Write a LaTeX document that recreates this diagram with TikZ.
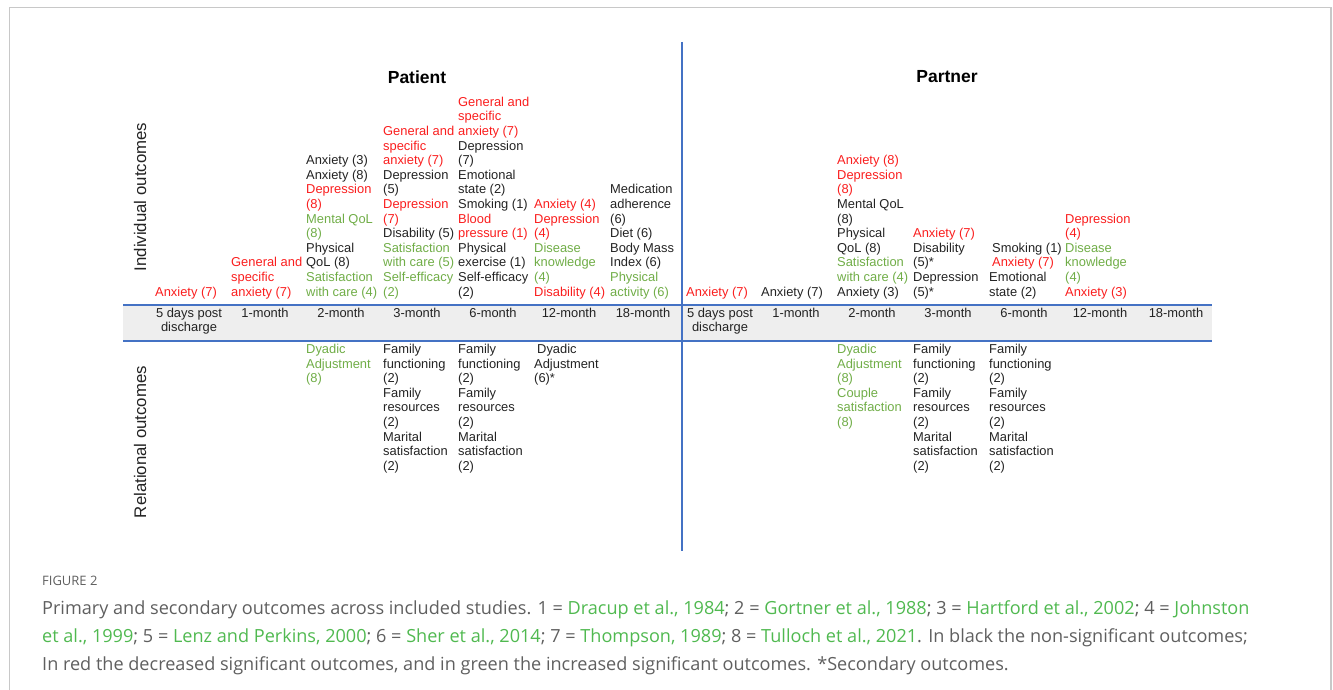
\documentclass[tikz,border=0pt]{standalone}
\usepackage{fontspec}
\setmainfont{Liberation Sans}
\newfontfamily\capfont{Open Sans}
\definecolor{redc}{RGB}{250,30,30}
\definecolor{greenc}{RGB}{112,173,71}
\definecolor{txtk}{RGB}{35,35,35}
\definecolor{bluel}{RGB}{68,114,196}
\definecolor{bandc}{RGB}{238,238,238}
\definecolor{framec}{RGB}{200,200,200}
\definecolor{capgray}{RGB}{95,95,95}
\definecolor{capgreen}{RGB}{80,185,80}
\newcommand\cR[1]{\textcolor{redc}{#1}}
\newcommand\cG[1]{\textcolor{greenc}{#1}}
\newcommand\cg[1]{\textcolor{capgreen}{#1}}
\begin{document}
\begin{tikzpicture}[x=1pt,y=-1pt,
  cell/.style={inner sep=0pt, align=left, font=\fontsize{12.9}{14.6}\selectfont, text=txtk},
  indiv/.style={cell, anchor=south west},
  rel/.style={cell, anchor=north west},
  hdr/.style={inner sep=0pt, align=center, anchor=north, font=\fontsize{12.9}{14.6}\selectfont, text=txtk},
  side/.style={inner sep=0pt, rotate=90, font=\fontsize{16.8}{18}\selectfont, text=txtk},
  title/.style={inner sep=0pt, font=\fontsize{17.5}{20}\selectfont\bfseries, text=black},
  capline/.style={inner sep=0pt, anchor=base west, font=\capfont\fontsize{18.1}{21}\selectfont, text=capgray},
  bline/.style={draw=bluel, line width=1.2pt}
  ]
\useasboundingbox (0,0) rectangle (1333,690);
% frame
\draw[framec, line width=1.5pt] (9.5,690) -- (9.5,7.5) -- (1331,7.5) -- (1331,690);
% band
\fill[bandc] (123,305) rectangle (1212,341);
\draw[bline] (123,305) -- (1212,305);
\draw[bline] (123,341) -- (1212,341);
\draw[bline] (682,42) -- (682,551);

% titles
\node[title] (tpat) at (417,77) {Patient};
\node[title] (tpar) at (947,77) {Partner};
\node[side] (sind) at (140,197) {Individual outcomes};
\node[side] (srel) at (140,442) {Relational outcomes};

% headers
\node[hdr] (hp1) at (189,307.5) {5 days post\\discharge};
\node[hdr] (hp2) at (265,307.5) {1-month};
\node[hdr] (hp3) at (341,307.5) {2-month};
\node[hdr] (hp4) at (417,307.5) {3-month};
\node[hdr] (hp5) at (493,307.5) {6-month};
\node[hdr] (hp6) at (569,307.5) {12-month};
\node[hdr] (hp7) at (643,307.5) {18-month};
\node[hdr] (hq1) at (720,307.5) {5 days post\\discharge};
\node[hdr] (hq2) at (796,307.5) {1-month};
\node[hdr] (hq3) at (872,307.5) {2-month};
\node[hdr] (hq4) at (948,307.5) {3-month};
\node[hdr] (hq5) at (1024,307.5) {6-month};
\node[hdr] (hq6) at (1100,307.5) {12-month};
\node[hdr] (hq7) at (1176,307.5) {18-month};

% patient individual
\node[indiv] (pi1) at (155,299) {\cR{Anxiety (7)}};
\node[indiv] (pi2) at (231,299) {\cR{General and}\\\cR{specific}\\\cR{anxiety (7)}};
\node[indiv] (pi3) at (306,299) {Anxiety (3)\\Anxiety (8)\\\cR{Depression}\\\cR{(8)}\\\cG{Mental QoL}\\\cG{(8)}\\Physical\\QoL (8)\\\cG{Satisfaction}\\\cG{with care (4)}};
\node[indiv] (pi4) at (383,299) {\cR{General and}\\\cR{specific}\\\cR{anxiety (7)}\\Depression\\(5)\\\cR{Depression}\\\cR{(7)}\\Disability (5)\\\cG{Satisfaction}\\\cG{with care (5)}\\\cG{Self-efficacy}\\\cG{(2)}};
\node[indiv] (pi5) at (458,299) {\cR{General and}\\\cR{specific}\\\cR{anxiety (7)}\\Depression\\(7)\\Emotional\\state (2)\\Smoking (1)\\\cR{Blood}\\\cR{pressure (1)}\\Physical\\exercise (1)\\Self-efficacy\\(2)};
\node[indiv] (pi6) at (534,299) {\cR{Anxiety (4)}\\\cR{Depression}\\\cR{(4)}\\\cG{Disease}\\\cG{knowledge}\\\cG{(4)}\\\cR{Disability (4)}};
\node[indiv] (pi7) at (610,299) {Medication\\adherence\\(6)\\Diet (6)\\Body Mass\\Index (6)\\\cG{Physical}\\\cG{activity (6)}};

% partner individual
\node[indiv] (qi1) at (686,299) {\cR{Anxiety (7)}};
\node[indiv] (qi2) at (761,299) {Anxiety (7)};
\node[indiv] (qi3) at (837,299) {\cR{Anxiety (8)}\\\cR{Depression}\\\cR{(8)}\\Mental QoL\\(8)\\Physical\\QoL (8)\\\cG{Satisfaction}\\\cG{with care (4)}\\Anxiety (3)};
\node[indiv] (qi4) at (913,299) {\cR{Anxiety (7)}\\Disability\\(5)*\\Depression\\(5)*};
\node[indiv] (qi5) at (989,299) {\hspace*{3pt}Smoking (1)\\\hspace*{3pt}\cR{Anxiety (7)}\\Emotional\\state (2)};
\node[indiv] (qi6) at (1065,299) {\cR{Depression}\\\cR{(4)}\\\cG{Disease}\\\cG{knowledge}\\\cG{(4)}\\\cR{Anxiety (3)}};

% patient relational
\node[rel] (pr3) at (306,344) {\cG{Dyadic}\\\cG{Adjustment}\\\cG{(8)}};
\node[rel] (pr4) at (383,344) {Family\\functioning\\(2)\\Family\\resources\\(2)\\Marital\\satisfaction\\(2)};
\node[rel] (pr5) at (458,344) {Family\\functioning\\(2)\\Family\\resources\\(2)\\Marital\\satisfaction\\(2)};
\node[rel] (pr6) at (534,344) {\hspace*{3pt}Dyadic\\Adjustment\\(6)*};

% partner relational
\node[rel] (qr3) at (837,344) {\cG{Dyadic}\\\cG{Adjustment}\\\cG{(8)}\\\cG{Couple}\\\cG{satisfaction}\\\cG{(8)}};
\node[rel] (qr4) at (913,344) {Family\\functioning\\(2)\\Family\\resources\\(2)\\Marital\\satisfaction\\(2)};
\node[rel] (qr5) at (989,344) {Family\\functioning\\(2)\\Family\\resources\\(2)\\Marital\\satisfaction\\(2)};

% caption
\node[inner sep=0pt, anchor=base west, font=\capfont\fontsize{13}{15}\selectfont, text=capgray] (fig) at (42,585) {FIGURE 2};
\node[capline] (c1) at (42,614) {Primary and secondary outcomes across included studies. 1 = \cg{Dracup et al., 1984}; 2 = \cg{Gortner et al., 1988}; 3 = \cg{Hartford et al., 2002}; 4 = \cg{Johnston}};
\node[capline] (c2) at (42,642) {\cg{et al., 1999}; 5 = \cg{Lenz and Perkins, 2000}; 6 = \cg{Sher et al., 2014}; 7 = \cg{Thompson, 1989}; 8 = \cg{Tulloch et al., 2021}. In black the non-significant outcomes;};
\node[capline] (c3) at (42,670) {In red the decreased significant outcomes, and in green the increased significant outcomes. *Secondary outcomes.};
\end{tikzpicture}
\end{document}
